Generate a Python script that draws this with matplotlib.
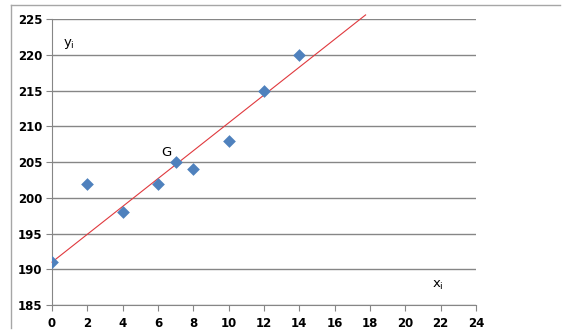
import matplotlib.pyplot as plt
from matplotlib.lines import Line2D

x = [0, 2, 4, 6, 7, 8, 10, 12, 14]
y = [191, 202, 198, 202, 205, 204, 208, 215, 220]

# fitted line as drawn in the sheet
intercept = 191
slope = 1.95
x_end = 17.75

fig = plt.figure(figsize=(5.71, 3.35), dpi=100)
ax = fig.add_axes([0.0911, 0.0896, 0.8336 - 0.0911, 0.9424 - 0.0896])

ax.scatter(x, y, marker='D', s=42, color='#4F81BD', zorder=3, linewidths=0)
ax.plot([0, x_end], [intercept, intercept + slope * x_end], color='#E0393E',
        lw=0.8, zorder=2, clip_on=False)

ax.set_xlim(0, 24)
ax.set_ylim(185, 225)
ax.set_xticks(range(0, 25, 2))
ax.set_yticks(range(185, 226, 5))
ax.grid(axis='y', color='#868686', lw=1)
ax.set_axisbelow(True)
for s in ['top', 'right']:
    ax.spines[s].set_visible(False)
for s in ['left', 'bottom']:
    ax.spines[s].set_color('#868686')
ax.tick_params(direction='out', length=4, color='#868686', labelsize=8.5, pad=3)
ax.tick_params(axis='x', pad=5)
for lab in ax.get_xticklabels() + ax.get_yticklabels():
    lab.set_fontweight('heavy')

ax.text(0.62, 221.5, 'y$_{\\mathrm{i}}$', fontsize=9.5, va='center')
ax.text(21.5, 187.8, 'x$_{\\mathrm{i}}$', fontsize=9.5, va='center')
ax.text(6.2, 206.3, 'G', fontsize=9.5, va='center')

# partial chart frame
fig.add_artist(Line2D([11 / 571, 560 / 571], [1 - 5 / 335, 1 - 5 / 335], color='#A6A6A6', lw=1))
fig.add_artist(Line2D([11 / 571, 11 / 571], [1 - 5 / 335, 1 - 328 / 335], color='#A6A6A6', lw=1))

fig.savefig('out.png', dpi=100)
